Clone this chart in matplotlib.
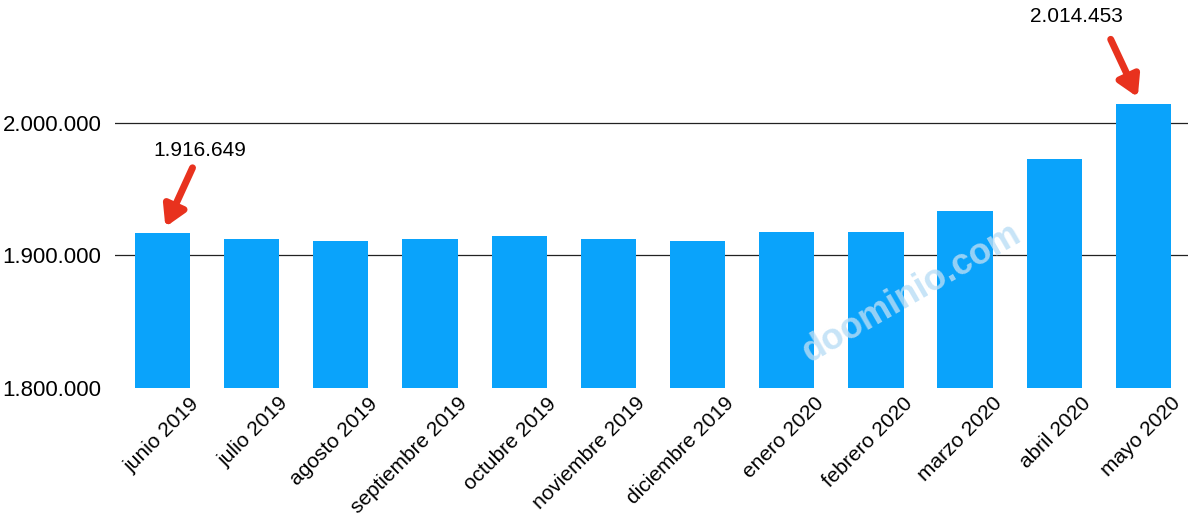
import matplotlib
matplotlib.use('Agg')
import matplotlib.pyplot as plt
from matplotlib.transforms import ScaledTranslation

plt.rcParams['font.family'] = ['Liberation Sans', 'DejaVu Sans']

months = ['junio 2019', 'julio 2019', 'agosto 2019', 'septiembre 2019', 'octubre 2019',
          'noviembre 2019', 'diciembre 2019', 'enero 2020', 'febrero 2020', 'marzo 2020',
          'abril 2020', 'mayo 2020']
values = [1916649, 1912100, 1910600, 1912100, 1914300, 1912100, 1910600,
          1917400, 1917400, 1933200, 1972500, 2014453]
yticks = [1800000, 1900000, 2000000]

def fmt(v):
    return f'{v:,}'.replace(',', '.')

fig = plt.figure(figsize=(12, 5.24), dpi=100)
ax = fig.add_axes([0.096, 0.26, 0.894, 0.74])
ymin, ymax = 1800000, 2092800
ax.set_ylim(ymin, ymax)
ax.set_xlim(-0.53, 11.5)

w = 0.62
for i, v in enumerate(values):
    ax.bar(i, v - ymin, bottom=ymin, width=w, color='#0AA3FB', zorder=2)

for y in yticks[1:]:
    ax.axhline(y, color='#222222', lw=0.9, zorder=1)

ax.set_yticks(yticks)
ax.set_yticklabels([fmt(v) for v in yticks], fontsize=16)
ax.set_xticks(range(len(months)))
ax.set_xticklabels([])
ax.tick_params(length=0, pad=10)
for s in ax.spines.values():
    s.set_visible(False)

# x labels, shifted right of bar centres as in the original
tr = ax.get_xaxis_transform() + ScaledTranslation(0.27, -0.06, fig.dpi_scale_trans)
for i, m in enumerate(months):
    ax.text(i, 0, m, transform=tr, rotation=45, ha='right', va='top',
            rotation_mode='anchor', fontsize=15)

# annotations
arrow = dict(arrowstyle='-|>,head_width=0.7,head_length=1.2', color='#E8321E', lw=5)
ax.annotate('', xy=(0.02, 1919500), xytext=(0.35, 1968000), arrowprops=arrow)
ax.text(0.42, 1979000, fmt(values[0]), fontsize=15, ha='center', va='center')
ax.annotate('', xy=(10.95, 2017500), xytext=(10.62, 2065000), arrowprops=arrow)
ax.text(10.25, 2080000, fmt(values[-1]), fontsize=15, ha='center', va='center')

# watermark
fig.text(0.76, 0.44, 'doominio.com', fontsize=26, rotation=30, color='#B9DDF5',
         alpha=0.8, ha='center', va='center', fontweight='bold')

fig.savefig('out.png', dpi=100)
